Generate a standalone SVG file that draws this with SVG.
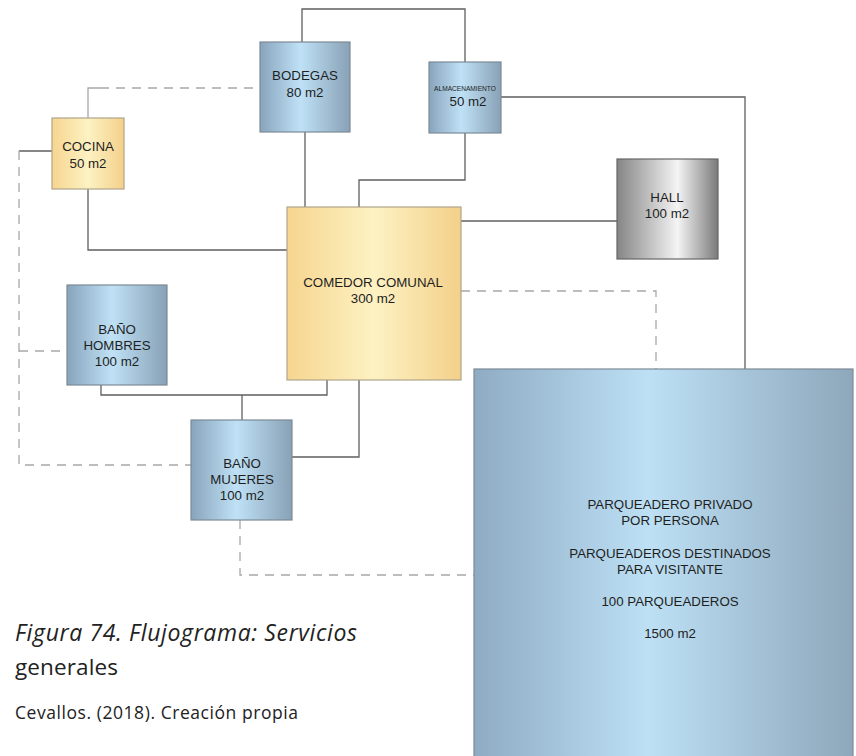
<svg xmlns="http://www.w3.org/2000/svg" width="856" height="756" viewBox="0 0 856 756">
<defs>
<linearGradient id="gBlue" x1="0" y1="0" x2="1" y2="0">
<stop offset="0" stop-color="#88a4bc"/>
<stop offset="0.45" stop-color="#bfe1f6"/>
<stop offset="1" stop-color="#88a1b6"/>
</linearGradient>
<linearGradient id="gYellow" x1="0" y1="0" x2="1" y2="0">
<stop offset="0" stop-color="#f6d58f"/>
<stop offset="0.5" stop-color="#fdf2c3"/>
<stop offset="1" stop-color="#f4d08a"/>
</linearGradient>
<linearGradient id="gGray" x1="0" y1="0" x2="1" y2="0">
<stop offset="0" stop-color="#858585"/>
<stop offset="0.6" stop-color="#f4f4f4"/>
<stop offset="1" stop-color="#7a7a7a"/>
</linearGradient>
<linearGradient id="gPark" x1="0" y1="0" x2="1" y2="0">
<stop offset="0" stop-color="#8eabc3"/>
<stop offset="0.46" stop-color="#bde0f5"/>
<stop offset="1" stop-color="#8ea7bb"/>
</linearGradient>
</defs>
<style>
.box{stroke:#7d8a96;stroke-width:1.2}
.ybox{stroke:#b0a58a;stroke-width:1.2}
.gbox{stroke:#666;stroke-width:1.2}
.t{font-family:"Liberation Sans",Arial,sans-serif;font-size:13.3px;fill:#1e1e1e;text-anchor:middle}
.solid{fill:none;stroke:#5f5f5f;stroke-width:1.3}
.dash{fill:none;stroke:#a8a8a8;stroke-width:1.3;stroke-dasharray:9 7}
.thin{fill:none;stroke:#a8a8a8;stroke-width:1.3}
.cap{font-family:"Open Sans","Liberation Sans",sans-serif;fill:#222}
</style>
<rect width="856" height="756" fill="#ffffff"/>

<g id="connectors">
<path class="solid" d="M302,42 V9 H465 V62"/>
<path class="solid" d="M305,132 V207"/>
<path class="solid" d="M465,133 V180 H359 V207"/>
<path class="solid" d="M501,97 H745 V369"/>
<path class="solid" d="M461,221 H617"/>
<path class="solid" d="M52,151 H19"/>
<path class="solid" d="M88,189 V250 H287"/>
<path class="solid" d="M101,385 V395 H327 V380"/>
<path class="solid" d="M242,395 V420"/>
<path class="solid" d="M359,380 V457 H292"/>
<path class="thin" d="M88,118 V88 H100"/>
<path class="dash" d="M100,88 H260"/>
<path class="dash" d="M19,151 V465 H191"/>
<path class="dash" d="M19,351 H67"/>
<path class="dash" d="M461,291 H656 V369"/>
<path class="dash" d="M240,520 V575 H474"/>
</g>

<g id="bodegas">
<rect class="box" x="260" y="42" width="90" height="90" fill="url(#gBlue)"/>
<text class="t" x="305" y="80">BODEGAS</text>
<text class="t" x="305" y="97">80 m2</text>
</g>

<g id="almacenamiento">
<rect class="box" x="429" y="62" width="72" height="71" fill="url(#gBlue)"/>
<text class="t" x="465" y="90.5" style="font-size:6.6px">ALMACENAMIENTO</text>
<text class="t" x="468" y="106">50 m2</text>
</g>

<g id="cocina">
<rect class="ybox" x="52" y="118" width="72" height="71" fill="url(#gYellow)"/>
<text class="t" x="88" y="151">COCINA</text>
<text class="t" x="88" y="168">50 m2</text>
</g>

<g id="comedor">
<rect class="ybox" x="287" y="207" width="174" height="173" fill="url(#gYellow)"/>
<text class="t" x="373" y="287">COMEDOR COMUNAL</text>
<text class="t" x="373" y="303">300 m2</text>
</g>

<g id="hall">
<rect class="gbox" x="617" y="159" width="101" height="100" fill="url(#gGray)"/>
<text class="t" x="667" y="202">HALL</text>
<text class="t" x="667" y="218">100 m2</text>
</g>

<g id="bano-hombres">
<rect class="box" x="67" y="285" width="100" height="100" fill="url(#gBlue)"/>
<text class="t" x="117" y="334">BAÑO</text>
<text class="t" x="117" y="350">HOMBRES</text>
<text class="t" x="117" y="366">100 m2</text>
</g>

<g id="bano-mujeres">
<rect class="box" x="191" y="420" width="101" height="100" fill="url(#gBlue)"/>
<text class="t" x="242" y="468">BAÑO</text>
<text class="t" x="242" y="484">MUJERES</text>
<text class="t" x="242" y="500">100 m2</text>
</g>

<g id="parqueadero">
<rect class="box" x="474" y="369" width="379" height="400" fill="url(#gPark)"/>
<text class="t" x="670" y="509">PARQUEADERO PRIVADO</text>
<text class="t" x="670" y="525">POR PERSONA</text>
<text class="t" x="670" y="558">PARQUEADEROS DESTINADOS</text>
<text class="t" x="670" y="574">PARA VISITANTE</text>
<text class="t" x="670" y="606">100 PARQUEADEROS</text>
<text class="t" x="670" y="638">1500 m2</text>
</g>

<g id="caption">
<text class="cap" x="15" y="641" style="font-size:23px;font-style:italic" textLength="342" lengthAdjust="spacing">Figura 74. Flujograma: Servicios</text>
<text class="cap" x="15" y="675" style="font-size:22.5px" textLength="103" lengthAdjust="spacing">generales</text>
<text class="cap" x="15" y="719" style="font-size:17.5px" textLength="283" lengthAdjust="spacing">Cevallos. (2018). Creación propia</text>
</g>
</svg>
